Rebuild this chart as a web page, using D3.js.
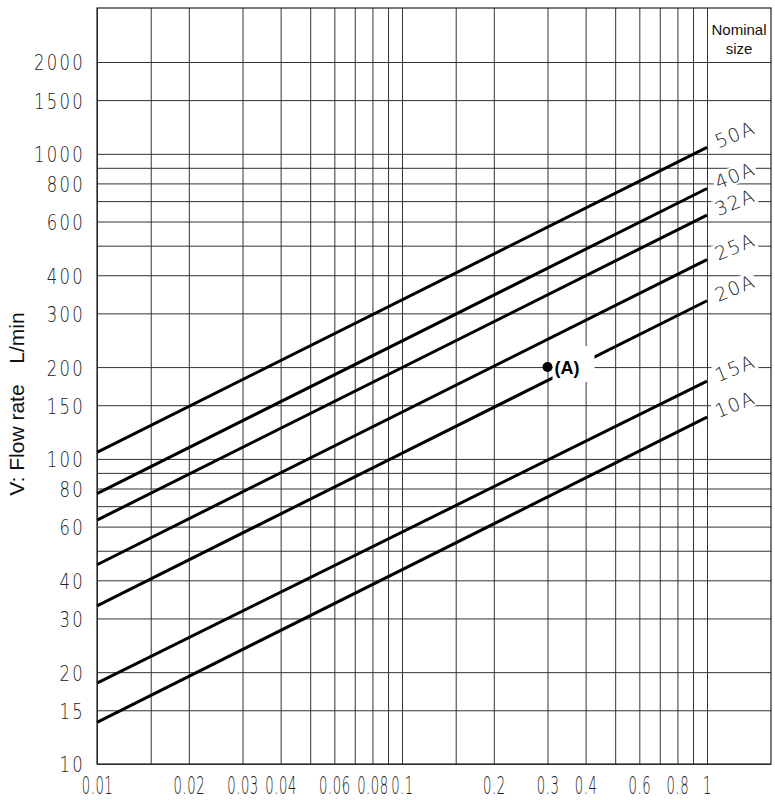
<!DOCTYPE html>
<html>
<head>
<meta charset="utf-8">
<script src="https://cdn.jsdelivr.net/npm/d3@7"></script>
<style>
  body { margin: 0; background: #fff; }
  svg { display: block; }
  .cad { font-family: "DejaVu Sans", sans-serif; font-weight: 300; fill: #222; }
  .grid line { stroke: #333; stroke-width: 1; }
</style>
</head>
<body>
<svg id="chart"></svg>
<script>
(function () {
  'use strict';

  // Nominal sizes, flow rate (L/min) read at each end of the line
  const sizes = ["50A", "40A", "32A", "25A", "20A", "15A", "10A"];
  const flowLow = [105, 77, 63, 45, 33, 18.4, 13.7];      // at 0.01
  const flowHigh = [1050, 770, 630, 450, 330, 180, 137];  // at 1
  const pressureEnds = [0.01, 1];

  // Example point (A)
  const pointA = { p: 0.3, v: 200, label: "(A)" };

  const xGrid = [0.01, 0.015, 0.02, 0.03, 0.04, 0.05, 0.06, 0.07, 0.08, 0.09,
    0.1, 0.15, 0.2, 0.3, 0.4, 0.5, 0.6, 0.7, 0.8, 0.9, 1];
  const xTicks = [0.01, 0.02, 0.03, 0.04, 0.06, 0.08, 0.1, 0.2, 0.3, 0.4, 0.6, 0.8, 1];
  const yGrid = [10, 15, 20, 30, 40, 50, 60, 70, 80, 90, 100, 150, 200, 300, 400,
    500, 600, 700, 800, 900, 1000, 1500, 2000];
  const yTicks = [10, 15, 20, 30, 40, 60, 80, 100, 150, 200, 300, 400, 600, 800,
    1000, 1500, 2000];

  const width = 775;
  const height = 800;
  const left = 97, right = 771, top = 8, bottom = 764;

  const svg = d3.select("#chart")
    .attr("width", width)
    .attr("height", height);

  const x = d3.scaleLog().domain([0.01, 1]).range([left, 707]);
  const y = d3.scaleLog().domain([10, 2000]).range([bottom, 62]);

  // Grid
  svg.append("g")
    .attr("class", "grid")
    .attr("transform", `translate(0,${bottom})`)
    .call(d3.axisBottom(x).tickValues(xGrid).tickSize(-(bottom - top)).tickFormat(""))
    .call(g => g.select(".domain").remove());

  svg.append("g")
    .attr("class", "grid")
    .attr("transform", `translate(${left},0)`)
    .call(d3.axisLeft(y).tickValues(yGrid).tickSize(-(right - left)).tickFormat(""))
    .call(g => g.select(".domain").remove());

  // Tick labels
  svg.append("g")
    .attr("transform", `translate(0,${bottom})`)
    .call(d3.axisBottom(x).tickValues(xTicks).tickSize(0).tickFormat(d => String(d)))
    .call(g => g.select(".domain").remove())
    .call(g => g.selectAll("text")
      .attr("class", "cad")
      .attr("y", null)
      .attr("dy", null)
      .style("font-size", "24px")
      .style("letter-spacing", "1px")
      .attr("transform", "translate(0,30) scale(0.55,1)"));

  svg.append("g")
    .attr("transform", `translate(${left},0)`)
    .call(d3.axisLeft(y).tickValues(yTicks).tickSize(0).tickFormat(d => String(d)))
    .call(g => g.select(".domain").remove())
    .call(g => g.selectAll("text")
      .attr("class", "cad")
      .attr("x", null)
      .attr("dy", "0.36em")
      .style("font-size", "22px")
      .style("letter-spacing", "3px")
      .attr("transform", "translate(-12,0) scale(0.75,1)"));

  // Size lines
  const line = d3.line()
    .x(d => x(d[0]))
    .y(d => y(d[1]));

  sizes.forEach(function (s, i) {
    const pts = pressureEnds.map((p, j) => [p, j === 0 ? flowLow[i] : flowHigh[i]]);
    svg.append("path")
      .datum(pts)
      .attr("fill", "none")
      .attr("stroke", "#000")
      .attr("stroke-width", 3)
      .attr("d", line);
  });

  // Size labels in the right column
  sizes.forEach(function (s, i) {
    const g = svg.append("g")
      .attr("transform", `translate(${x(1) + 28},${y(flowHigh[i]) - 13}) rotate(-22)`);
    const rect = g.append("rect").attr("fill", "#fff");
    const t = g.append("text")
      .attr("class", "cad")
      .attr("text-anchor", "middle")
      .attr("dy", "0.36em")
      .style("font-size", "19px")
      .style("letter-spacing", "1.5px")
      .text(s);
    const b = t.node().getBBox();
    rect.attr("x", b.x - 2).attr("y", b.y + 2)
      .attr("width", b.width + 3).attr("height", b.height - 4);
  });

  // Point (A)
  const ax = x(pointA.p), ay = y(pointA.v);
  svg.append("rect")
    .attr("x", ax + 5)
    .attr("y", ay - 21)
    .attr("width", 42)
    .attr("height", 36)
    .attr("fill", "#fff");
  svg.append("text")
    .attr("x", ax + 7)
    .attr("y", ay)
    .attr("dy", "0.36em")
    .style("font-family", "'Liberation Sans', Arial, sans-serif")
    .style("font-weight", "bold")
    .style("font-size", "18px")
    .text(pointA.label);
  svg.append("circle")
    .attr("cx", ax)
    .attr("cy", ay)
    .attr("r", 5)
    .attr("fill", "#000");

  // Frame
  svg.append("rect")
    .attr("x", left)
    .attr("y", top)
    .attr("width", right - left)
    .attr("height", bottom - top)
    .attr("fill", "none")
    .attr("stroke", "#222")
    .attr("stroke-width", 1.2);

  // Column header
  const head = svg.append("text")
    .attr("text-anchor", "middle")
    .style("font-family", "'Liberation Sans', Arial, sans-serif")
    .style("font-size", "15px")
    .attr("fill", "#111");
  head.append("tspan").attr("x", (x(1) + right) / 2).attr("y", 35).text("Nominal");
  head.append("tspan").attr("x", (x(1) + right) / 2).attr("y", 54).text("size");

  // Y axis title
  svg.append("text")
    .attr("transform", "translate(24,440) rotate(-90)")
    .attr("text-anchor", "middle")
    .style("font-family", "'Liberation Sans', Arial, sans-serif")
    .style("font-size", "21px")
    .attr("fill", "#111")
    .text("V: Flow rate");
  svg.append("text")
    .attr("transform", "translate(24,338) rotate(-90)")
    .attr("text-anchor", "middle")
    .style("font-family", "'Liberation Sans', Arial, sans-serif")
    .style("font-size", "21px")
    .attr("fill", "#111")
    .text("L/min");

})();
</script>
</body>
</html>
